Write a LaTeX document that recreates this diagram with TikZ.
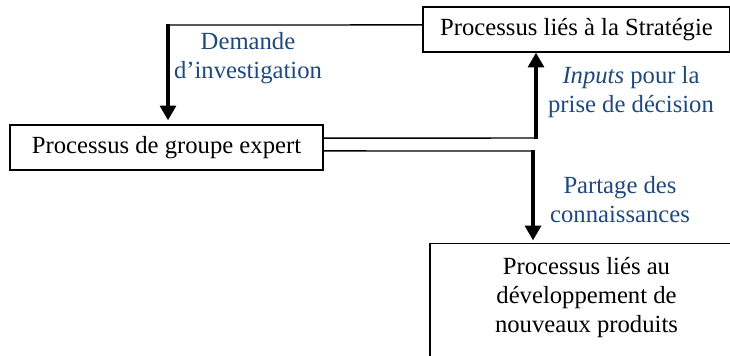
\documentclass[tikz,border=0pt]{standalone}
\usepackage{fontspec}
\setmainfont{Liberation Serif}
\usetikzlibrary{arrows.meta}
\definecolor{labelblue}{HTML}{1F497D}
\tikzset{
	process/.style={draw, line width=1.1pt, align=center, inner sep=0pt,
		font=\fontsize{18.5}{21.75}\selectfont},
	link/.style={line width=1.1pt},
	flow/.style={line width=2.4pt, -{Triangle[width=12pt,length=11pt]}},
	flowlabel/.style={align=center, text=labelblue, inner sep=0pt,
		font=\fontsize{18.5}{21.75}\selectfont}
}
\begin{document}
\begin{tikzpicture}[x=0.75pt,y=-0.75pt]
	\useasboundingbox (0,0) rectangle (730,355);
	% the three process boxes
	\node [process, minimum width=230.25pt, minimum height=33.75pt] (strat)  at (576.5,29.5) {Processus liés à la Stratégie};
	\node [process, minimum width=234.75pt, minimum height=33.75pt] (expert) at (166.5,147.5) {Processus de groupe expert};
	\node [process, anchor=north, minimum width=234.75pt, inner ysep=10.5pt, text depth=90pt] (npd) at (586.5,243)
		{Processus liés au\\développement de\\nouveaux produits};
	% corners where the thin lines turn into arrows
	\coordinate (ask)  at (168,25);
	\coordinate (up)   at (536,138);
	\coordinate (down) at (533,151);
	\draw [link] ([yshift=3.4pt]strat.west) -- (ask);
	\draw [flow, shorten >=3pt] ([yshift=0.4pt]ask) -- (ask |- expert.north);
	\draw [link] ([yshift=7.1pt]expert.east) -- (up);
	\draw [flow] ([yshift=-0.4pt]up) -- (up |- strat.south);
	\draw [link] ([yshift=-2.6pt]expert.east) -- (down);
	\draw [flow, shorten >=2pt] ([yshift=0.4pt]down) -- (down |- npd.north);
	% what flows along each arrow
	\node [flowlabel] (askl)   at (248,58)  {Demande\\d’investigation};
	\node [flowlabel] (inputl) at (631,92)  {\textit{Inputs} pour la\\prise de décision};
	\node [flowlabel] (sharel) at (620,200) {Partage des\\connaissances};
\end{tikzpicture}
\end{document}
